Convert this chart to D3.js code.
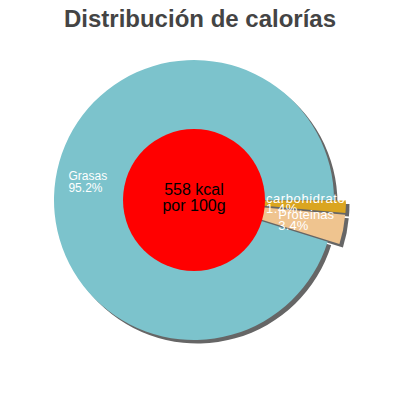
<!DOCTYPE html>
<html>
<head>
  <meta charset="utf-8">
  <title>Distribución de calorías</title>
  <style>
    body { margin: 0; background: #fff; }
    text { font-family: "Liberation Sans", Arial, sans-serif; }
  </style>
</head>
<body>
<script src="https://d3js.org/d3.v7.min.js"></script>
<svg id="chart" width="400" height="400"></svg>

<script>
    // datos
    var categories = ["Grasas", "carbohidratos", "Proteinas"];
    var percents = [95.2, 1.4, 3.4];
    var percentLabels = ["95.2%", "1.4%", "3.4%"];
    var exploded = [false, true, true];
    var centerLines = ["558 kcal", "por 100g"];
    var title = "Distribución de calorías";

    // estilo / posiciones
    var colors = ["#7cc3cc", "#daa520", "#efc48f"];
    var labelRadius = [127, 72, 86];
    var labelDy = [-1, 0, 2];
    var labelSize = [12, 13, 13];
    var labelSpacing = [0, 0.6, 0.1];
    var labelLine = [12, 10, 11.5];

    var svg = d3.select("#chart"),
        cx = 194, cy = 200,
        radius = 140,
        holeRadius = 71,
        explode = 12;

    svg.append("text")
        .attr("x", 200)
        .attr("y", 27)
        .attr("text-anchor", "middle")
        .attr("font-size", "24px")
        .attr("font-weight", "bold")
        .attr("fill", "#444")
        .text(title);

    var start = 107.3 * Math.PI / 180;
    var pie = d3.pie().sort(null)
        .startAngle(start)
        .endAngle(start + 2 * Math.PI);

    var arc = d3.arc().innerRadius(0).outerRadius(radius);

    var slices = pie(percents).map(function(d, i) {
        var mid = (d.startAngle + d.endAngle) / 2;
        var off = exploded[i] ? explode : 0;
        d.dx = Math.sin(mid) * off;
        d.dy = -Math.cos(mid) * off;
        d.mid = mid;
        d.i = i;
        return d;
    });

    var g = svg.append("g").attr("transform", "translate(" + cx + "," + cy + ")");

    // sombra
    g.selectAll("path.shadow")
        .data(slices)
        .enter()
        .append("path")
        .attr("class", "shadow")
        .attr("fill", "#666")
        .attr("transform", function(d) { return "translate(" + (d.dx + 3.5) + "," + (d.dy + 3.5) + ")"; })
        .attr("d", arc);

    g.selectAll("path.slice")
        .data(slices)
        .enter()
        .append("path")
        .attr("class", "slice")
        .attr("fill", function(d) { return colors[d.i]; })
        .attr("transform", function(d) { return "translate(" + d.dx + "," + d.dy + ")"; })
        .attr("d", arc);

    // circulo central
    g.append("circle")
        .attr("r", holeRadius)
        .attr("fill", "#ff0000");

    g.append("text")
        .attr("text-anchor", "middle")
        .attr("font-size", "16px")
        .attr("fill", "#000")
        .selectAll("tspan")
        .data(centerLines)
        .enter()
        .append("tspan")
        .attr("x", 0)
        .attr("y", function(d, i) { return -5 + i * 16; })
        .text(function(d) { return d; });

    // etiquetas
    var labels = g.selectAll("text.label")
        .data(slices)
        .enter()
        .append("text")
        .attr("class", "label")
        .attr("fill", "#fff")
        .attr("font-size", function(d) { return labelSize[d.i] + "px"; })
        .attr("letter-spacing", function(d) { return labelSpacing[d.i]; })
        .attr("transform", function(d) {
            var r = labelRadius[d.i];
            return "translate(" + (Math.sin(d.mid) * r) + "," + (-Math.cos(d.mid) * r + labelDy[d.i]) + ")";
        });

    labels.append("tspan")
        .attr("x", 0).attr("y", 0)
        .text(function(d) { return categories[d.i]; });
    labels.append("tspan")
        .attr("x", 0).attr("y", function(d) { return labelLine[d.i]; })
        .text(function(d) { return percentLabels[d.i]; });
</script>
</body>
</html>
